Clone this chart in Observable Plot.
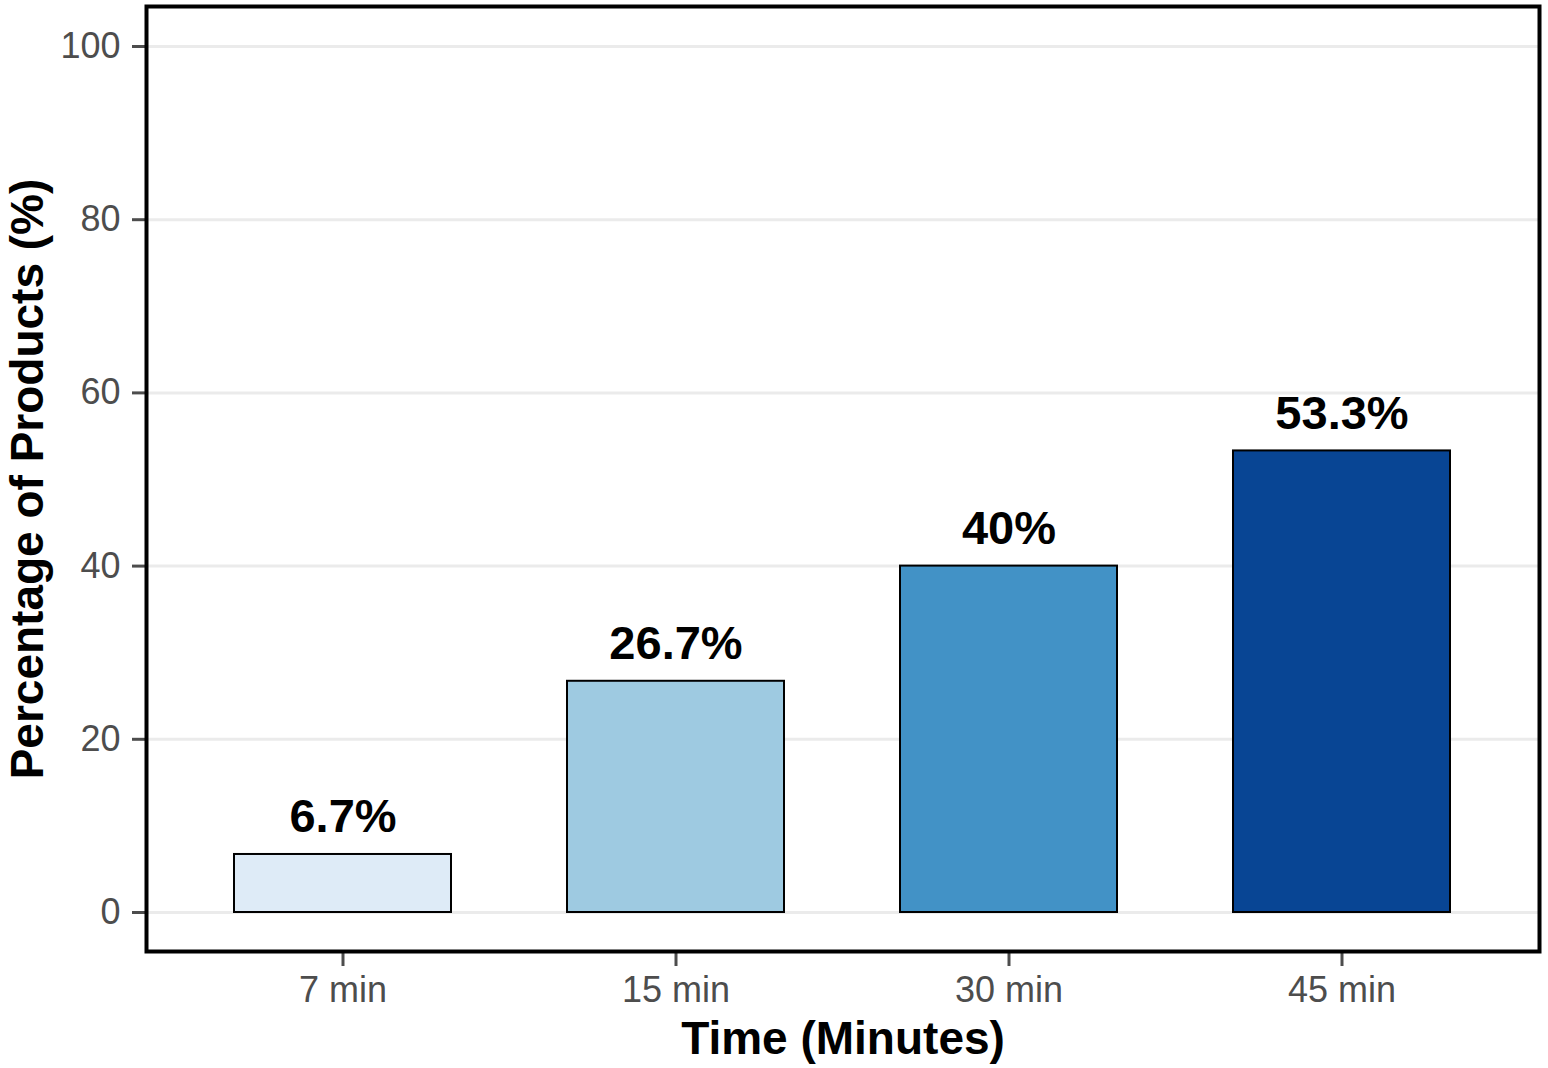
<!DOCTYPE html>
<html>
<head>
<meta charset="utf-8">
<script src="https://cdn.jsdelivr.net/npm/d3@7"></script>
<script src="https://cdn.jsdelivr.net/npm/@observablehq/plot@0.6"></script>
<style>
  html, body { margin: 0; padding: 0; background: #ffffff; }
  #chart { width: 1548px; height: 1068px; }
</style>
</head>
<body>
<div id="chart"></div>
<script>
const categories = ["7 min", "15 min", "30 min", "45 min"];
const values = [6.7, 26.7, 40, 53.3];
const valueLabels = ["6.7%", "26.7%", "40%", "53.3%"];
const barColors = ["#deebf7", "#9ecae1", "#4292c6", "#084594"];
const yTicks = [0, 20, 40, 60, 80, 100];
const xTitle = "Time (Minutes)";
const yTitle = "Percentage of Products (%)";

const data = categories.map((c, i) => ({ time: c, value: values[i], label: valueLabels[i], color: barColors[i] }));

const W = 1548, H = 1068;
const chart = Plot.plot({
  width: W,
  height: H,
  marginLeft: 146,
  marginRight: 9,
  marginTop: 6,
  marginBottom: 117,
  style: { fontFamily: "'Liberation Sans', Arial, sans-serif", background: "#ffffff" },
  x: { domain: categories, paddingInner: 0.348, paddingOuter: 0.264, label: null },
  y: { domain: [0, 100], range: [912, 46], label: null },
  marks: [
    Plot.gridY(yTicks, { stroke: "#ebebeb", strokeOpacity: 1, strokeWidth: 3 }),
    Plot.barY(data, { x: "time", y: "value", fill: "color", stroke: "#000000", strokeWidth: 2 }),
    Plot.text(data, { x: "time", y: "value", text: "label", dy: -22, lineAnchor: "bottom",
      fontSize: 47, fontWeight: "bold", fill: "#000000" }),
    Plot.axisY(yTicks, { tickSize: 14, tickPadding: 12, fontSize: 36, color: "#4d4d4d",
      strokeWidth: 3, label: null, tickFormat: d => String(d) }),
    Plot.axisX({ tickSize: 15, tickPadding: 10, fontSize: 36, color: "#4d4d4d",
      strokeWidth: 3, label: null }),
    Plot.frame({ stroke: "#000000", strokeWidth: 4 }),
    Plot.text([xTitle], { frameAnchor: "bottom", dy: 102, lineAnchor: "bottom", textAnchor: "middle",
      fontSize: 46, fontWeight: "bold", fill: "#000000" }),
    Plot.text([yTitle], { frameAnchor: "left", dx: -104, rotate: -90, lineAnchor: "bottom", textAnchor: "middle",
      fontSize: 46, fontWeight: "bold", fill: "#000000" })
  ]
});
document.getElementById("chart").appendChild(chart);
</script>
</body>
</html>
